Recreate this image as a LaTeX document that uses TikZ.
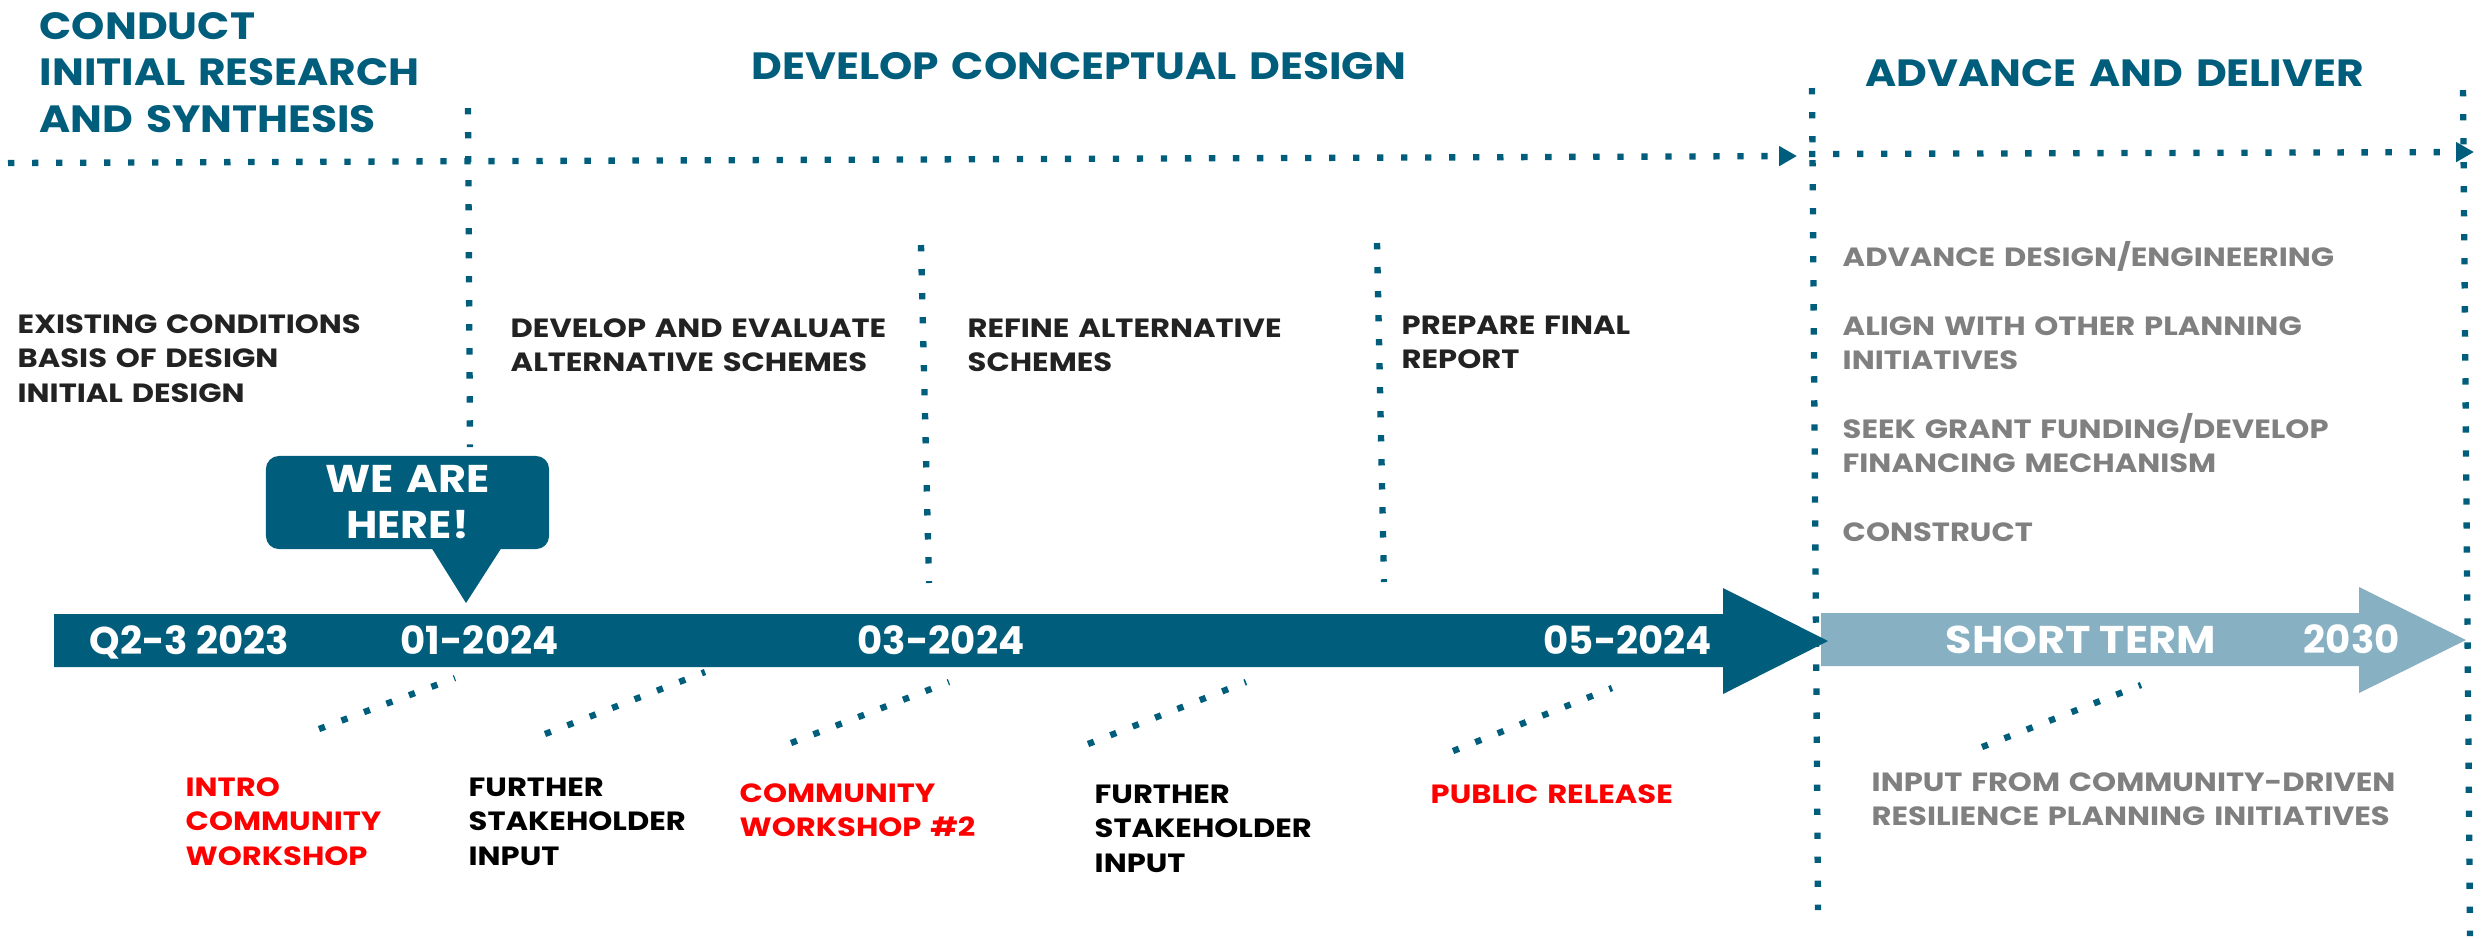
\documentclass[tikz,border=0pt]{standalone}
\usepackage{fontspec}
\setmainfont{Poppins}
\newfontfamily\stretchbody{Poppins}[FakeStretch=1.16]
\newfontfamily\stretchtitle{Poppins}[FakeStretch=1.115]
\newfontfamily\stretchword{Poppins}[FakeStretch=1.11]
\usetikzlibrary{arrows.meta}
\definecolor{tealmain}{RGB}{0,94,124}
\definecolor{teallight}{RGB}{135,176,194}
\definecolor{redlbl}{RGB}{255,0,0}
\definecolor{graylbl}{RGB}{128,128,128}
\definecolor{darklbl}{RGB}{34,34,34}
\newcommand\fbody{\stretchbody\fontsize{7.5pt}{9.82pt}\selectfont\bfseries}
\newcommand\ftitle{\stretchtitle\fontsize{10.8pt}{13.23pt}\selectfont\bfseries}
\newcommand\fdate{\fontsize{11pt}{13pt}\selectfont\bfseries}
\newcommand\fword{\stretchword\fontsize{11pt}{13.1pt}\selectfont\bfseries}
\begin{document}
\begin{tikzpicture}[x=0.01cm,y=-0.01cm,
  dotline/.style={draw=tealmain, line width=1.8pt, dash pattern=on 1.8pt off 5.03pt},
  tip/.style={-{Triangle[length=5.1pt,width=5.4pt]}},
  title/.style={inner sep=0, anchor=base west, text width=8cm, align=left, font=\ftitle, text=tealmain},
  body/.style={inner sep=0, anchor=base west, text width=7cm, align=left, font=\fbody},
  datelbl/.style={inner sep=0, anchor=base west, font=\fdate, text=white}]
\useasboundingbox (0,0) rectangle (2483,938);

% dotted horizontal phase lines
\coordinate (h1s) at (8,163);
\coordinate (h1e) at (1797,156);
\coordinate (h2s) at (1809,154);
\coordinate (h2e) at (2474,152);
\draw[dotline, tip] (h1s) -- (h1e);
\draw[dotline, tip] (h2s) -- (h2e);

% dotted vertical separators
\coordinate (v1t) at (468,108);  \coordinate (v1b) at (470,447);
\coordinate (v2t) at (921,245);  \coordinate (v2b) at (929,583);
\coordinate (v3t) at (1377,243); \coordinate (v3b) at (1384,582);
\coordinate (v4t) at (1812,88);  \coordinate (v4b) at (1818,910);
\coordinate (v5t) at (2463,90);  \coordinate (v5b) at (2470,936);
\draw[dotline] (v1t) -- (v1b);
\draw[dotline] (v2t) -- (v2b);
\draw[dotline] (v3t) -- (v3b);
\draw[dotline] (v4t) -- (v4b);
\draw[dotline] (v5t) -- (v5b);

% diagonal dotted leaders
\coordinate (d1a) at (319,729);  \coordinate (d1b) at (455,678);
\coordinate (d2a) at (545,734);  \coordinate (d2b) at (705,672);
\coordinate (d3a) at (791,743);  \coordinate (d3b) at (949,682);
\coordinate (d4a) at (1088,744); \coordinate (d4b) at (1246,682);
\coordinate (d5a) at (1453,751); \coordinate (d5b) at (1612,688);
\coordinate (d6a) at (1982,747); \coordinate (d6b) at (2141,685);
\foreach \i in {1,...,6} \draw[dotline] (d\i a) -- (d\i b);

% timeline arrows
\fill[teallight] (1821,613) -- (2359,613) -- (2359,587) -- (2466,640) -- (2359,693) -- (2359,666) -- (1821,666) -- cycle;
\fill[tealmain] (54,614) -- (1723,614) -- (1723,588) -- (1828,641) -- (1723,694) -- (1723,667) -- (54,667) -- cycle;

% we are here bubble
\node[fill=tealmain, rounded corners=3.7pt, minimum width=2.83cm, minimum height=0.93cm,
      text width=2.6cm, align=center, inner sep=0, font=\fword, text=white] (here) at (407.5,502.5) {WE ARE\\HERE!};
\fill[tealmain] (431,547) -- (466,603) -- (502,547) -- cycle;

% phase titles
\node[title] (t1) at (39,39) {CONDUCT\\INITIAL RESEARCH\\AND SYNTHESIS};
\node[title] (t2) at (751,79) {DEVELOP CONCEPTUAL DESIGN};
\node[title] (t3) at (1865,86) {ADVANCE AND DELIVER};

% activity labels
\node[body, text=darklbl] (a1) at (17,333) {EXISTING CONDITIONS\\BASIS OF DESIGN\\INITIAL DESIGN};
\node[body, text=darklbl] (a2) at (510,337) {DEVELOP AND EVALUATE\\ALTERNATIVE SCHEMES};
\node[body, text=darklbl] (a3) at (967,337) {REFINE ALTERNATIVE\\SCHEMES};
\node[body, text=darklbl] (a4) at (1401,334) {PREPARE FINAL\\REPORT};
\node[body, text=graylbl] (g1) at (1842,266) {ADVANCE DESIGN/ENGINEERING};
\node[body, text=graylbl] (g2) at (1842,335) {ALIGN WITH OTHER PLANNING\\INITIATIVES};
\node[body, text=graylbl] (g3) at (1842,438) {SEEK GRANT FUNDING/DEVELOP\\FINANCING MECHANISM};
\node[body, text=graylbl] (g4) at (1842,541) {CONSTRUCT};

% dates on arrows
\node[datelbl] (q23) at (89,654) {Q2-3 2023};
\node[datelbl] (m01) at (400,654) {01-2024};
\node[datelbl] (m03) at (857,654) {03-2024};
\node[datelbl] (m05) at (1543,654) {05-2024};
\node[datelbl, font=\fword] (st) at (1945,653) {SHORT TERM};
\node[datelbl] (y30) at (2303,653) {2030};

% engagement labels
\node[body, text=redlbl] (e1) at (185,796) {INTRO\\COMMUNITY\\WORKSHOP};
\node[body, text=black] (e2) at (468,796) {FURTHER\\STAKEHOLDER\\INPUT};
\node[body, text=redlbl] (e3) at (739,802) {COMMUNITY\\WORKSHOP \#2};
\node[body, text=black] (e4) at (1094,803) {FURTHER\\STAKEHOLDER\\INPUT};
\node[body, text=redlbl] (e5) at (1430,803) {PUBLIC RELEASE};
\node[body, text=graylbl] (e6) at (1871,791) {INPUT FROM COMMUNITY-DRIVEN\\RESILIENCE PLANNING INITIATIVES};
\end{tikzpicture}
\end{document}
